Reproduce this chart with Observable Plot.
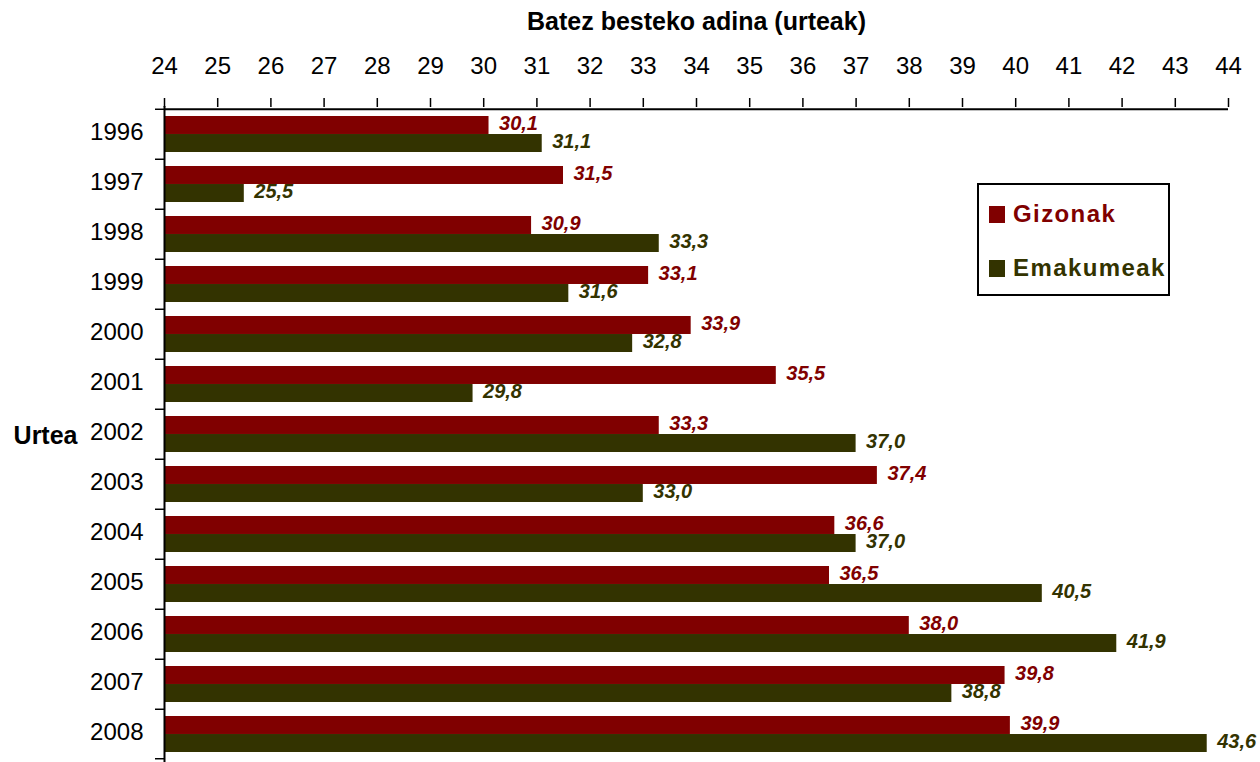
<!DOCTYPE html>
<html>
<head>
<meta charset="utf-8">
<script src="https://cdn.jsdelivr.net/npm/d3@7"></script>
<script src="https://cdn.jsdelivr.net/npm/@observablehq/plot@0.6"></script>
<style>
  html, body { margin: 0; padding: 0; background: #fff; }
  #wrap { position: relative; width: 1260px; height: 762px; font-family: Arial, "Liberation Sans", sans-serif; }
  #legend { position: absolute; left: 977px; top: 183px; width: 189px; height: 109px; border: 2px solid #000; background: #fff; }
  .item { position: absolute; left: 10px; display: flex; align-items: center; font-weight: bold; font-size: 24px; letter-spacing: 1.4px; }
  .sw { width: 16px; height: 17px; margin-right: 8px; }
</style>
</head>
<body>
<div id="wrap">
  <div id="chart"></div>
  <div id="legend">
    <div class="item" style="top:15px;color:#800000"><div class="sw" style="background:#800000"></div>Gizonak</div>
    <div class="item" style="top:69px;color:#333300"><div class="sw" style="background:#333300"></div>Emakumeak</div>
  </div>
</div>
<script>
const years = ["1996","1997","1998","1999","2000","2001","2002","2003","2004","2005","2006","2007","2008"];
const gizonak = [30.1, 31.5, 30.9, 33.1, 33.9, 35.5, 33.3, 37.4, 36.6, 36.5, 38.0, 39.8, 39.9];
const emakumeak = [31.1, 25.5, 33.3, 31.6, 32.8, 29.8, 37.0, 33.0, 37.0, 40.5, 41.9, 38.8, 43.6];
const xTicks = [24,25,26,27,28,29,30,31,32,33,34,35,36,37,38,39,40,41,42,43,44];
const title = "Batez besteko adina (urteak)";
const yTitle = "Urtea";
const colRed = "#800000", colGreen = "#333300";

const W = 1260, H = 762, mT = 106, mB = 0, mL = 164, mR = 32;
const step = (H - mT - mB) / years.length;
const half = step * 0.714 / 2;
const fmt = v => v.toFixed(1).replace(".", ",");

const red = years.map((y, i) => ({year: y, v: gizonak[i]}));
const green = years.map((y, i) => ({year: y, v: emakumeak[i]}));
const x0 = xTicks[0], x1 = xTicks[xTicks.length - 1];

const chart = Plot.plot({
  width: W, height: H,
  marginTop: mT, marginBottom: mB, marginLeft: mL, marginRight: mR,
  style: {fontFamily: 'Arial, "Liberation Sans", sans-serif', background: "transparent", overflow: "visible"},
  x: {domain: [x0, x1]},
  y: {domain: years, paddingInner: 0.286, paddingOuter: 0.143, align: 0.5},
  marks: [
    Plot.barX(red, {y: "year", x1: () => x0, x2: "v", fill: colRed, insetBottom: half, insetTop: 0}),
    Plot.barX(green, {y: "year", x1: () => x0, x2: "v", fill: colGreen, insetTop: half, insetBottom: 0}),
    Plot.text(red, {y: "year", x: "v", text: d => fmt(d.v), dx: 10, dy: -11, textAnchor: "start", fill: colRed, fontSize: 20, fontWeight: "bold", fontStyle: "italic"}),
    Plot.text(green, {y: "year", x: "v", text: d => fmt(d.v), dx: 10, dy: 7.5, textAnchor: "start", fill: colGreen, fontSize: 20, fontWeight: "bold", fontStyle: "italic"}),
    Plot.axisX({anchor: "top", ticks: xTicks, tickFormat: d => String(d), tickSize: 9, tickPadding: 24, fontSize: 24, label: null, strokeWidth: 1.5}),
    Plot.axisY({anchor: "left", tickSize: 0, tickPadding: 21, fontSize: 24, label: null, dy: -2}),
    Plot.axisY(years, {anchor: "left", tickSize: 9, tickFormat: () => "", dy: -step / 2, label: null, strokeWidth: 1.5}),
    Plot.axisY([years[years.length - 1]], {anchor: "left", tickSize: 9, tickFormat: () => "", dy: step / 2 - 1, label: null, strokeWidth: 1.5}),
    Plot.ruleY([years[0]], {x1: () => x0, x2: () => x1, dy: -step / 2, stroke: "#000", strokeWidth: 2}),
    Plot.ruleX([x0], {stroke: "#000", strokeWidth: 2}),
    Plot.text([title], {frameAnchor: "top", dy: -94, fontSize: 25, fontWeight: "bold", fill: "#000", letterSpacing: "1.3px"}),
    Plot.text([yTitle], {frameAnchor: "left", dx: -87, dy: 1, textAnchor: "end", fontSize: 25, fontWeight: "bold", fill: "#000"})
  ]
});
document.getElementById("chart").appendChild(chart);
</script>
</body>
</html>
